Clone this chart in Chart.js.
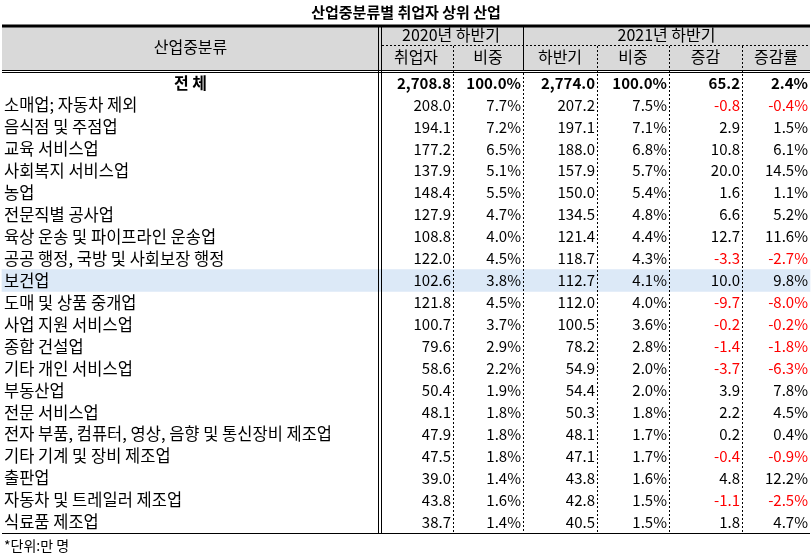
<!DOCTYPE html>
<html><head><meta charset="utf-8">
<script src="https://cdn.jsdelivr.net/npm/chart.js@4"></script>
<style>body{margin:0;background:#fff}canvas{display:block}</style>
</head><body>
<canvas id="c" width="812" height="558"></canvas>
<script>
var industries = ['전 체','소매업; 자동차 제외','음식점 및 주점업','교육 서비스업','사회복지 서비스업','농업','전문직별 공사업',
  '육상 운송 및 파이프라인 운송업','공공 행정, 국방 및 사회보장 행정','보건업','도매 및 상품 중개업','사업 지원 서비스업',
  '종합 건설업','기타 개인 서비스업','부동산업','전문 서비스업','전자 부품, 컴퓨터, 영상, 음향 및 통신장비 제조업',
  '기타 기계 및 장비 제조업','출판업','자동차 및 트레일러 제조업','식료품 제조업'];
var emp2020 = ['2,708.8','208.0','194.1','177.2','137.9','148.4','127.9','108.8','122.0','102.6','121.8','100.7','79.6','58.6','50.4','48.1','47.9','47.5','39.0','43.8','38.7'];
var share2020 = ['100.0%','7.7%','7.2%','6.5%','5.1%','5.5%','4.7%','4.0%','4.5%','3.8%','4.5%','3.7%','2.9%','2.2%','1.9%','1.8%','1.8%','1.8%','1.4%','1.6%','1.4%'];
var emp2021 = ['2,774.0','207.2','197.1','188.0','157.9','150.0','134.5','121.4','118.7','112.7','112.0','100.5','78.2','54.9','54.4','50.3','48.1','47.1','43.8','42.8','40.5'];
var share2021 = ['100.0%','7.5%','7.1%','6.8%','5.7%','5.4%','4.8%','4.4%','4.3%','4.1%','4.0%','3.6%','2.8%','2.0%','2.0%','1.8%','1.7%','1.7%','1.6%','1.5%','1.5%'];
var change = ['65.2','-0.8','2.9','10.8','20.0','1.6','6.6','12.7','-3.3','10.0','-9.7','-0.2','-1.4','-3.7','3.9','2.2','0.2','-0.4','4.8','-1.1','1.8'];
var changeRate = ['2.4%','-0.4%','1.5%','6.1%','14.5%','1.1%','5.2%','11.6%','-2.7%','9.8%','-8.0%','-0.2%','-1.8%','-6.3%','7.8%','4.5%','0.4%','-0.9%','12.2%','-2.5%','4.7%'];
var highlightRow = '보건업';
var colEdges = [2, 379, 453, 523, 597, 669, 742, 810];
var font = '"Noto Sans CJK KR", "Noto Sans", sans-serif';

var tablePlugin = {
  id: 'table',
  afterDatasetsDraw: function(chart) {
    var ctx = chart.ctx, x = chart.scales.x, y = chart.scales.y, a = chart.chartArea;
    var px = function(v){ return x.getPixelForValue(v); };
    var cols = [emp2020, share2020, emp2021, share2021, change, changeRate];
    ctx.save();
    // title
    ctx.fillStyle = '#000'; ctx.textAlign = 'center'; ctx.textBaseline = 'middle';
    ctx.font = 'bold 15px ' + font;
    ctx.fillText('산업중분류별 취업자 상위 산업', 406, 12);
    // header
    ctx.fillStyle = '#d9d9d9'; ctx.fillRect(px(2), 27, px(810) - px(2), 43);
    ctx.fillStyle = '#000'; ctx.font = '16px ' + font;
    ctx.fillText('산업중분류', (px(2) + px(379)) / 2, 47);
    ctx.fillText('2020년 하반기', (px(379) + px(523)) / 2, 35);
    ctx.fillText('2021년 하반기', (px(523) + px(810)) / 2, 35);
    var sub = ['취업자','비중','하반기','비중','증감','증감률'];
    for (var k = 0; k < 6; k++) ctx.fillText(sub[k], (px(colEdges[k+1]) + px(colEdges[k+2])) / 2, 57);
    // body text
    industries.forEach(function(name, i) {
      var cy = y.getPixelForValue(i);
      var bold = i === 0;
      ctx.font = (bold ? 'bold 16px ' : '16.5px ') + font;
      ctx.fillStyle = '#000';
      if (bold) { ctx.textAlign = 'center'; ctx.fillText(name, (px(2) + px(379)) / 2, cy); }
      else { ctx.textAlign = 'left'; ctx.fillText(name, px(4), cy); }
      ctx.font = (bold ? 'bold 15px ' : '15px ') + font;
      ctx.textAlign = 'right';
      cols.forEach(function(col, c) {
        var v = col[i];
        ctx.fillStyle = (!bold && v.charAt(0) === '-') ? '#ff0000' : '#000';
        ctx.fillText(v, px(colEdges[c+2]) - 2, cy);
      });
    });
    // lines
    ctx.strokeStyle = '#000';
    ctx.lineWidth = 3; ctx.beginPath(); ctx.moveTo(px(2), 26); ctx.lineTo(px(810), 26); ctx.stroke();
    ctx.lineWidth = 1;
    ctx.beginPath();
    ctx.moveTo(px(2), 70.5); ctx.lineTo(px(810), 70.5);
    ctx.moveTo(px(2), 72.5); ctx.lineTo(px(810), 72.5);
    ctx.moveTo(px(2), a.bottom + 0.5); ctx.lineTo(px(810), a.bottom + 0.5);
    ctx.moveTo(px(378) + 0.5, 27); ctx.lineTo(px(378) + 0.5, a.bottom);
    ctx.moveTo(px(381) + 0.5, 27); ctx.lineTo(px(381) + 0.5, a.bottom);
    ctx.moveTo(px(523) + 0.5, 27); ctx.lineTo(px(523) + 0.5, 70);
    ctx.stroke();
    ctx.setLineDash([2, 2]);
    ctx.beginPath();
    ctx.moveTo(px(382), 45.5); ctx.lineTo(px(810), 45.5);
    [453, 597, 669, 742].forEach(function(e){ ctx.moveTo(px(e) + 0.5, 46); ctx.lineTo(px(e) + 0.5, a.bottom); });
    ctx.moveTo(px(523) + 0.5, 73); ctx.lineTo(px(523) + 0.5, a.bottom);
    ctx.stroke();
    ctx.setLineDash([]);
    // footnote
    ctx.fillStyle = '#000'; ctx.textAlign = 'left'; ctx.font = '14px ' + font;
    ctx.fillText('*단위:만 명', 4, 546);
    ctx.restore();
  }
};

new Chart(document.getElementById('c'), {
  type: 'bar',
  data: {
    labels: industries,
    datasets: [{
      data: industries.map(function(n){ return n === highlightRow ? [2, 810] : null; }),
      backgroundColor: '#dce9f7',
      barPercentage: 1, categoryPercentage: 1
    }]
  },
  options: {
    indexAxis: 'y',
    responsive: false,
    animation: false,
    layout: { padding: { top: 72, bottom: 25, left: 0, right: 0 } },
    plugins: { legend: { display: false }, title: { display: false }, tooltip: { enabled: false } },
    scales: {
      x: { type: 'linear', min: 0, max: 812, display: false },
      y: { type: 'category', display: false, offset: true }
    }
  },
  plugins: [tablePlugin]
});
</script>
</body></html>
